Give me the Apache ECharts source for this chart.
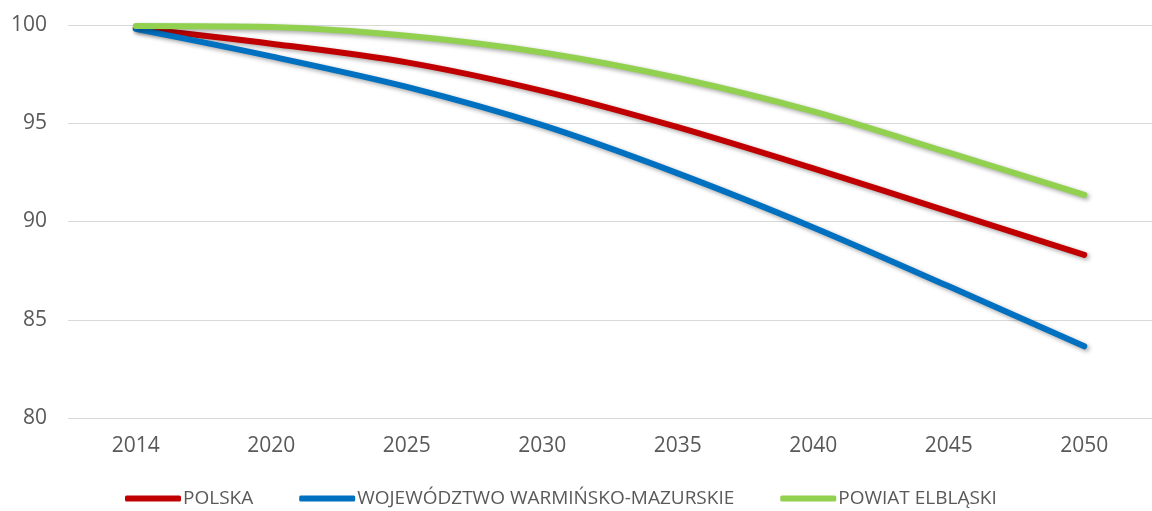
<!DOCTYPE html>
<html>
<head>
<meta charset="utf-8">
<script src="https://cdn.jsdelivr.net/npm/echarts@6/dist/echarts.min.js"></script>
<style>
  html, body { margin: 0; padding: 0; background: #fff; }
  #chart { width: 1152px; height: 511px; }
</style>
</head>
<body>
<div id="chart"></div>
<script>
// lata prognozy
const years = ['2014', '2020', '2025', '2030', '2035', '2040', '2045', '2050'];
// wartości (2014 = 100)
const polska = [99.85, 99.05, 98.1, 96.65, 94.8, 92.7, 90.5, 88.3];
const warminsko = [99.8, 98.4, 96.85, 94.9, 92.45, 89.7, 86.7, 83.65];
const elblaski = [99.95, 99.9, 99.45, 98.6, 97.3, 95.6, 93.5, 91.35];
const yTicks = [80, 85, 90, 95, 100];

const myChart = echarts.init(document.getElementById('chart'));

function lineSeries(name, data, color) {
  return {
    name: name,
    type: 'line',
    data: data,
    smooth: 0.3,
    symbol: 'none',
    lineStyle: {
      width: 6,
      color: color,
      cap: 'round',
      shadowColor: 'rgba(0,0,0,0.35)',
      shadowBlur: 4,
      shadowOffsetX: 2,
      shadowOffsetY: 2
    },
    itemStyle: { color: color }
  };
}

const option = {
  animation: false,
  grid: { left: 68, top: 25, width: 1100, height: 393 },
  xAxis: {
    type: 'category',
    data: years,
    boundaryGap: true,
    axisLine: { show: false },
    axisTick: { show: false },
    axisLabel: { color: '#595959', fontSize: 21, fontFamily: 'Open Sans', margin: 18 }
  },
  yAxis: {
    type: 'value',
    min: yTicks[0],
    max: yTicks[yTicks.length - 1],
    interval: 5,
    axisLine: { show: false },
    axisTick: { show: false },
    axisLabel: { color: '#595959', fontSize: 21, fontFamily: 'Open Sans', margin: 21 },
    splitLine: { lineStyle: { color: '#d9d9d9', width: 1 } }
  },
  legend: {
    top: 484,
    left: 120,
    itemWidth: 56,
    itemHeight: 6,
    itemGap: 46,
    icon: 'roundRect',
    textStyle: { color: '#595959', fontSize: 19, fontFamily: 'Open Sans', padding: [0, 0, 0, -3] },
    data: ['POLSKA', 'WOJEWÓDZTWO WARMIŃSKO-MAZURSKIE', 'POWIAT ELBLĄSKI']
  },
  series: [
    lineSeries('POLSKA', polska, '#C00000'),
    lineSeries('WOJEWÓDZTWO WARMIŃSKO-MAZURSKIE', warminsko, '#0070C0'),
    lineSeries('POWIAT ELBLĄSKI', elblaski, '#92D050')
  ]
};

myChart.setOption(option);
window.addEventListener('resize', function () {
  myChart.resize();
});
</script>
</body>
</html>
